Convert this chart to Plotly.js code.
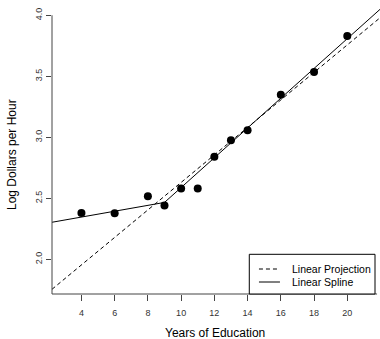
<!DOCTYPE html>
<html>
<head>
<meta charset="utf-8">
<script src="https://cdn.plot.ly/plotly-3.0.1.min.js"></script>
<style>html,body{margin:0;padding:0;background:#fff;}#chart{width:380px;height:339px;}</style>
</head>
<body>
<div id="chart"></div>
<script>
// Data
const educationYears = [4, 6, 8, 9, 10, 11, 12, 13, 14, 16, 18, 20];
const logWage = [2.38, 2.377, 2.516, 2.44, 2.58, 2.58, 2.841, 2.975, 3.057, 3.349, 3.535, 3.83];
const xTicks = [4, 6, 8, 10, 12, 14, 16, 18, 20];
const yTicks = [2.0, 2.5, 3.0, 3.5, 4.0];
const yTickLabels = ["2.0", "2.5", "3.0", "3.5", "4.0"];
// Fitted lines: intercept, slope (projection); intercept, slope, slope change after knot (spline)
const projectionCoef = [1.503, 0.1127];
const splineCoef = [2.25, 0.024, 0.098];
const splineKnot = [9];
const seriesNames = ["Linear Projection", "Linear Spline"];
const seriesDash = ['4px,3px', 'solid'];

const xRange = [2.229, 21.97];
const yRange = [1.7156, 4.125];

const proj = x => projectionCoef[0] + projectionCoef[1] * x;
const spline = x => splineCoef[0] + splineCoef[1] * x + splineCoef[2] * Math.max(0, x - splineKnot[0]);

const projX = [xRange[0], xRange[1]];
const splX = [xRange[0], splineKnot[0], xRange[1]];

const traces = [
  {
    x: projX, y: projX.map(proj), mode: 'lines', name: seriesNames[0],
    line: {color: '#000', width: 1, dash: seriesDash[0]}, hoverinfo: 'skip'
  },
  {
    x: splX, y: splX.map(spline), mode: 'lines', name: seriesNames[1],
    line: {color: '#000', width: 1, dash: seriesDash[1]}, hoverinfo: 'skip'
  },
  {
    x: educationYears, y: logWage, mode: 'markers',
    marker: {color: '#000', size: 8}
  }
];

const axisColor = '#444';

// Legend box (bottom-right of plot area), built with shapes and annotations
const legendBox = {x0: 0.6015, x1: 0.9848, y0: 0, y1: 0.135};
const legendRows = [0.085, 0.0408];
const legendShapes = [
  {type: 'rect', xref: 'paper', yref: 'paper', x0: legendBox.x0, x1: legendBox.x1,
   y0: legendBox.y0, y1: legendBox.y1, line: {color: '#000', width: 1}, fillcolor: '#fff', layer: 'above'}
];
const legendAnns = [];
seriesNames.forEach((name, i) => {
  legendShapes.push({type: 'line', xref: 'paper', yref: 'paper', x0: 0.631, x1: 0.695,
    y0: legendRows[i], y1: legendRows[i], line: {color: '#000', width: 1, dash: seriesDash[i]}, layer: 'above'});
  legendAnns.push({text: name, xref: 'paper', yref: 'paper', x: 0.7256, y: legendRows[i],
    xanchor: 'left', yanchor: 'middle', showarrow: false, font: {size: 10.5}});
});

const layout = {
  width: 380, height: 339,
  margin: {l: 52, r: 0, t: 0, b: 45},
  paper_bgcolor: '#fff', plot_bgcolor: '#fff',
  font: {family: 'Liberation Sans, Arial, sans-serif', color: '#000'},
  showlegend: false,
  xaxis: {
    range: xRange, tickvals: xTicks, ticks: 'outside', ticklen: 6, tickcolor: axisColor,
    tickfont: {size: 9, color: '#333'}, showgrid: false, zeroline: false, showline: false,
    ticklabelstandoff: 4
  },
  yaxis: {
    range: yRange, tickvals: yTicks, ticktext: yTickLabels, ticks: 'outside', ticklen: 5,
    tickcolor: axisColor, tickangle: -90, tickfont: {size: 9, color: '#333'},
    showgrid: false, zeroline: false, showline: false
  },
  shapes: [
    {type: 'line', xref: 'paper', yref: 'y', x0: 0, x1: 0, y0: yRange[0], y1: yTicks[yTicks.length - 1],
     line: {color: axisColor, width: 1}},
    {type: 'line', xref: 'paper', yref: 'paper', x0: 0, x1: 0.991, y0: 0, y1: 0,
     line: {color: axisColor, width: 1}}
  ].concat(legendShapes),
  annotations: [
    {text: 'Years of Education', xref: 'paper', yref: 'paper', x: 0.497, y: -0.133,
     showarrow: false, font: {size: 12}, xanchor: 'center', yanchor: 'middle'},
    {text: 'Log Dollars per Hour', xref: 'paper', yref: 'paper', x: -0.122, y: 0.476,
     showarrow: false, font: {size: 12}, textangle: -90, xanchor: 'center', yanchor: 'middle'}
  ].concat(legendAnns)
};

Plotly.newPlot('chart', traces, layout, {displayModeBar: false, staticPlot: true});
</script>
</body>
</html>
